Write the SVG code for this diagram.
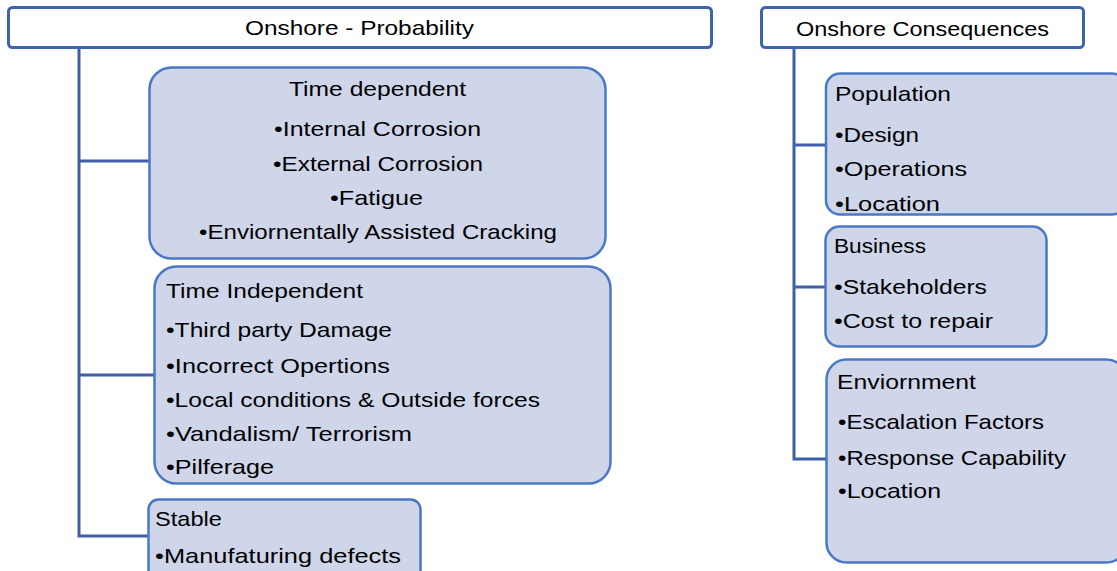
<svg xmlns="http://www.w3.org/2000/svg" width="1117" height="571" viewBox="0 0 1117 571">
<style>
.hdr{fill:#ffffff;stroke:#3F64AF;stroke-width:3}
.box{fill:#CFD6EA;stroke:#4A78C6;stroke-width:2.5}
.con{fill:none;stroke:#3F60A8;stroke-width:3}
text{font-family:"Liberation Sans",Arial,sans-serif;font-size:21px;fill:#000}
</style>
<rect width="1117" height="571" fill="#fff"/>
<g id="connectors">
<path class="con" d="M79 48 V536 H149 M79 161 H150 M79 375 H155"/>
<path class="con" d="M794 48 V459 H826 M794 145 H826 M794 287 H826"/>
</g>
<g id="onshore-probability">
<rect class="hdr" x="8.5" y="7.5" width="703" height="40" rx="4"/>
<text x="245" y="35" textLength="229" lengthAdjust="spacingAndGlyphs">Onshore - Probability</text>
</g>
<g id="time-dependent">
<rect class="box" x="149.5" y="67.5" width="456" height="191" rx="22"/>
<text x="289" y="96" textLength="177" lengthAdjust="spacingAndGlyphs">Time dependent</text>
<text x="274" y="136" textLength="207" lengthAdjust="spacingAndGlyphs">•Internal Corrosion</text>
<text x="273" y="171" textLength="210" lengthAdjust="spacingAndGlyphs">•External Corrosion</text>
<text x="330" y="205" textLength="93" lengthAdjust="spacingAndGlyphs">•Fatigue</text>
<text x="199" y="239" textLength="358" lengthAdjust="spacingAndGlyphs">•Enviornentally Assisted Cracking</text>
</g>
<g id="time-independent">
<rect class="box" x="154.5" y="266.5" width="456" height="217" rx="22"/>
<text x="166" y="298" textLength="197" lengthAdjust="spacingAndGlyphs">Time Independent</text>
<text x="166" y="337" textLength="226" lengthAdjust="spacingAndGlyphs">•Third party Damage</text>
<text x="166" y="373" textLength="224" lengthAdjust="spacingAndGlyphs">•Incorrect Opertions</text>
<text x="166" y="407" textLength="374" lengthAdjust="spacingAndGlyphs">•Local conditions &amp; Outside forces</text>
<text x="166" y="441" textLength="246" lengthAdjust="spacingAndGlyphs">•Vandalism/ Terrorism</text>
<text x="166" y="474" textLength="108" lengthAdjust="spacingAndGlyphs">•Pilferage</text>
</g>
<g id="stable">
<rect class="box" x="148.5" y="499.5" width="272" height="90" rx="10"/>
<text x="155" y="526" textLength="67" lengthAdjust="spacingAndGlyphs">Stable</text>
<text x="155" y="563" textLength="246" lengthAdjust="spacingAndGlyphs">•Manufaturing defects</text>
</g>
<g id="onshore-consequences">
<rect class="hdr" x="761.5" y="7.5" width="322" height="40" rx="4"/>
<text x="796" y="36" textLength="253" lengthAdjust="spacingAndGlyphs">Onshore Consequences</text>
</g>
<g id="population">
<rect class="box" x="826" y="73.5" width="300" height="141" rx="14"/>
<text x="835" y="101" textLength="116" lengthAdjust="spacingAndGlyphs">Population</text>
<text x="835" y="142" textLength="84" lengthAdjust="spacingAndGlyphs">•Design</text>
<text x="835" y="176" textLength="132" lengthAdjust="spacingAndGlyphs">•Operations</text>
<text x="835" y="211" textLength="105" lengthAdjust="spacingAndGlyphs">•Location</text>
</g>
<g id="business">
<rect class="box" x="825.5" y="226.5" width="221" height="120" rx="14"/>
<text x="834" y="253" textLength="92" lengthAdjust="spacingAndGlyphs">Business</text>
<text x="834" y="294" textLength="153" lengthAdjust="spacingAndGlyphs">•Stakeholders</text>
<text x="834" y="328" textLength="159" lengthAdjust="spacingAndGlyphs">•Cost to repair</text>
</g>
<g id="enviornment">
<rect class="box" x="826.5" y="359.5" width="300" height="203" rx="20"/>
<text x="837" y="389" textLength="139" lengthAdjust="spacingAndGlyphs">Enviornment</text>
<text x="838" y="429" textLength="206" lengthAdjust="spacingAndGlyphs">•Escalation Factors</text>
<text x="838" y="465" textLength="228" lengthAdjust="spacingAndGlyphs">•Response Capability</text>
<text x="838" y="498" textLength="103" lengthAdjust="spacingAndGlyphs">•Location</text>
</g>
</svg>
